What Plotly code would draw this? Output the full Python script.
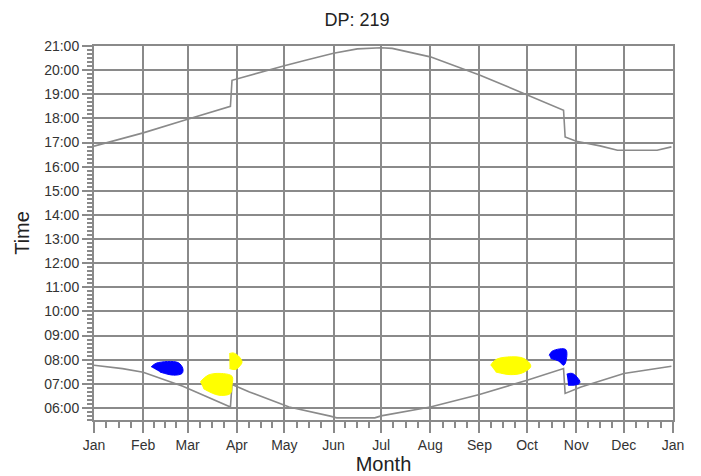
import pandas as pd
import plotly.graph_objects as go

# sunrise / sunset readings (decimal hours, local clock time)
sunrise_dates = ["2015-01-01", "2015-01-19", "2015-02-01", "2015-02-26", "2015-03-28",
                 "2015-03-29", "2015-04-09", "2015-05-04", "2015-05-30", "2015-06-03",
                 "2015-06-27", "2015-07-01", "2015-08-01", "2015-09-01", "2015-10-01",
                 "2015-10-24", "2015-10-25", "2015-11-04", "2015-12-01", "2015-12-31"]
sunrise_hours = [7.77, 7.63, 7.48, 6.90, 6.04,
                 6.97, 6.66, 6.04, 5.66, 5.59,
                 5.59, 5.67, 6.04, 6.56, 7.15,
                 7.63, 6.60, 6.87, 7.43, 7.73]

sunset_dates = ["2015-01-01", "2015-01-23", "2015-02-01", "2015-03-01", "2015-03-28",
                "2015-03-29", "2015-04-19", "2015-05-01", "2015-05-15", "2015-06-01",
                "2015-06-16", "2015-07-01", "2015-07-08", "2015-08-01", "2015-09-01",
                "2015-10-01", "2015-10-24", "2015-10-25", "2015-11-01", "2015-11-16",
                "2015-11-27", "2015-12-22", "2015-12-31"]
sunset_hours = [16.85, 17.26, 17.40, 17.96, 18.50,
                19.58, 19.97, 20.18, 20.42, 20.70,
                20.88, 20.93, 20.90, 20.55, 19.80,
                18.96, 18.34, 17.23, 17.05, 16.86,
                16.68, 16.68, 16.82]

# glare patches (outline points)
blue_feb_dates = ["2015-02-06", "2015-02-09 12:00", "2015-02-23", "2015-02-26", "2015-02-25 12:00", "2015-02-20", "2015-02-11 12:00"]
blue_feb_hours = [7.70, 7.86, 7.88, 7.63, 7.43, 7.36, 7.49]

yellow_mar_dates = ["2015-03-09", "2015-03-14", "2015-03-21 12:00", "2015-03-29", "2015-03-29", "2015-03-28", "2015-03-20 12:00", "2015-03-11"]
yellow_mar_hours = [7.08, 7.36, 7.43, 7.31, 6.94, 6.60, 6.53, 6.80]

yellow_apr_dates = ["2015-03-27 06:00", "2015-03-29 18:00", "2015-04-01 22:00", "2015-04-04 08:00", "2015-04-02 14:00", "2015-03-31", "2015-03-27 10:00"]
yellow_apr_hours = [8.25, 8.28, 8.16, 7.91, 7.71, 7.59, 7.63]

yellow_sep_dates = ["2015-09-08", "2015-09-11 06:00", "2015-09-18 14:00", "2015-09-29", "2015-10-03 08:00", "2015-09-28 08:00", "2015-09-20 16:00", "2015-09-11 06:00"]
yellow_sep_hours = [7.77, 8.00, 8.11, 8.05, 7.73, 7.46, 7.38, 7.49]

blue_oct_dates = ["2015-10-14 22:00", "2015-10-17", "2015-10-25 10:00", "2015-10-25 10:00", "2015-10-24", "2015-10-21", "2015-10-15 22:00"]
blue_oct_hours = [8.18, 8.36, 8.42, 7.91, 7.77, 7.94, 8.05]

blue_nov_dates = ["2015-10-26", "2015-10-29 16:00", "2015-11-03 08:00", "2015-11-01 20:00", "2015-10-26 22:00"]
blue_nov_hours = [7.40, 7.43, 7.08, 6.97, 6.94]

BASE_DAY = pd.Timestamp("2015-01-01")
GREY = "#8a8a8a"


def to_days(dates):
    return pd.to_datetime(dates, format="ISO8601")


def to_clock(hours):
    return [BASE_DAY + pd.to_timedelta(h, unit="h") for h in hours]


def patch(dates, hours, color):
    return go.Scatter(
        x=to_days(dates), y=to_clock(hours),
        mode="lines", fill="toself", fillcolor=color,
        line=dict(color=color, width=1, shape="spline"),
        hoverinfo="skip",
    )


# minor x ticks: each month split in quarters
month_starts = pd.date_range("2015-01-01", "2016-01-01", freq="MS")
quarter_ticks = [a + (b - a) * k / 4 for a, b in zip(month_starts[:-1], month_starts[1:]) for k in (1, 2, 3)]

fig = go.Figure()

for dates, hours in [(sunrise_dates, sunrise_hours), (sunset_dates, sunset_hours)]:
    fig.add_trace(go.Scatter(
        x=to_days(dates), y=to_clock(hours),
        mode="lines", line=dict(color=GREY, width=1.6),
    ))

fig.add_trace(patch(blue_feb_dates, blue_feb_hours, "#0000ff"))
fig.add_trace(patch(yellow_mar_dates, yellow_mar_hours, "#ffff00"))
fig.add_trace(patch(yellow_apr_dates, yellow_apr_hours, "#ffff00"))
fig.add_trace(patch(yellow_sep_dates, yellow_sep_hours, "#ffff00"))
fig.add_trace(patch(blue_oct_dates, blue_oct_hours, "#0000ff"))
fig.add_trace(patch(blue_nov_dates, blue_nov_hours, "#0000ff"))

# page body adds an 8px offset, so the figure is a bit smaller than the window
fig.update_layout(
    width=693, height=468,
    margin=dict(l=86, r=28, t=38, b=56),
    paper_bgcolor="white", plot_bgcolor="white",
    showlegend=False,
    font=dict(family="Liberation Sans, Arial, sans-serif", size=14, color="#333333"),
    title=dict(text="DP: 219", x=0.5036, xanchor="center", y=0.976, yanchor="middle",
               font=dict(size=18, color="#222222")),
)

fig.update_xaxes(
    type="date", range=["2015-01-01", "2016-01-01"], automargin=False,
    tick0="2015-01-01", dtick="M1", tickformat="%b",
    ticks="outside", ticklen=11, tickwidth=2, tickcolor=GREY,
    showgrid=True, gridcolor=GREY, gridwidth=2,
    showline=True, linecolor=GREY, linewidth=2, mirror=True,
    minor=dict(ticks="outside", ticklen=6, tickwidth=1.5, tickcolor=GREY,
               tickmode="array", tickvals=quarter_ticks, showgrid=False),
    title=dict(text="Month", font=dict(size=20, color="#222222"), standoff=2),
)

fig.update_yaxes(
    type="date", range=["2015-01-01 05:30", "2015-01-01 21:00"], automargin=False,
    tick0="2015-01-01 00:00", dtick=3600000, tickformat="%H:%M",
    ticks="outside", ticklen=10, tickwidth=2, tickcolor=GREY,
    showgrid=True, gridcolor=GREY, gridwidth=2,
    showline=True, linecolor=GREY, linewidth=2, mirror=True,
    minor=dict(ticks="outside", ticklen=5, tickwidth=1.5, tickcolor=GREY,
               dtick=600000, showgrid=False),
    title=dict(text="Time", font=dict(size=20, color="#222222"), standoff=9),
)

fig.write_html("out.html")
